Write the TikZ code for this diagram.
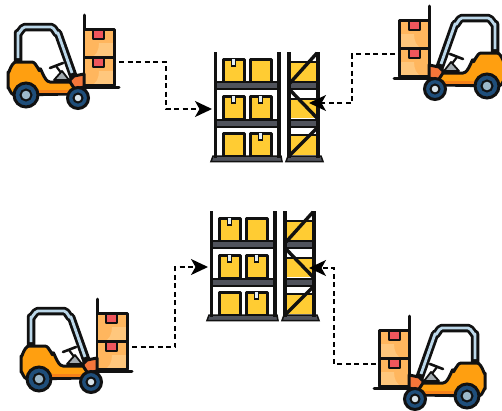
\documentclass[tikz,border=0pt]{standalone}
\usetikzlibrary{arrows.meta}
\definecolor{boxor}{HTML}{FFB65E}
\definecolor{boxlt}{HTML}{FFC77D}
\definecolor{tagred}{HTML}{F0565C}
\definecolor{bodyor}{HTML}{FF9F10}
\definecolor{bodydk}{HTML}{F5821A}
\definecolor{noseor}{HTML}{F5763A}
\definecolor{navyw}{HTML}{1F4E7A}
\definecolor{hubw}{HTML}{9DB8C9}
\definecolor{glass}{HTML}{BCD8EA}
\definecolor{seatg}{HTML}{A3ABB0}
\definecolor{inkk}{HTML}{111111}
\definecolor{shelfg}{HTML}{50535C}
\definecolor{crate}{HTML}{FFCC33}
\tikzset{
  x=1pt,y=-1pt,
  ink/.style={draw=inkk,line width=3pt,line join=round,line cap=round},
  flow/.style={draw=black,line width=1.4pt,dash pattern=on 5pt off 3.5pt,-{Stealth[length=17pt,width=16pt,inset=4.5pt]}},
  crateb/.style={ink,fill=crate},
  lifttruck/.pic={
    % cab frame
    \draw[inkk,line width=8.5pt,line join=round] (18,66) -- (18,33) to[out=-90,in=180] (25,27) -- (51,27) to[out=0,in=-110] (58,33) -- (74,78);
    \draw[glass,line width=2.8pt,line join=round] (18,58) -- (18,33) to[out=-90,in=180] (25,27) -- (51,27) to[out=0,in=-110] (58,33) -- (72,73);
    % steering and seat
    \draw[ink,line width=2.6pt] (50,68) -- (63,63);
    \draw[ink,line width=2.2pt] (56,66) -- (65,78);
    \draw[ink,fill=seatg,line width=1.8pt] (54,80) -- (62,71) -- (69,80) -- cycle;
    % mast and forks
    \draw[ink] (84,15) -- (84,87) -- (119,87);
    % boxes
    \foreach \ty in {29,57}{
      \fill[boxor] (85,\ty) rectangle (113,\ty+28);
      \fill[boxlt] (99,\ty+14) -- (113,\ty+14) -- (113,\ty+28) -- (90,\ty+28) to[out=0,in=-90] (99,\ty+14);
      \fill[tagred] (93,\ty) rectangle (104,\ty+9);
      \draw[ink,line width=2pt] (93,\ty) -- (93,\ty+10) -- (104,\ty+10) -- (104,\ty);
      \draw[ink] (85,\ty) -- (114,\ty) -- (114,\ty+28) -- (85,\ty+28);
    }
    % nose and body
    \draw[ink,fill=noseor] (70,80) -- (74,76) -- (84,74) -- (84,87) -- (70,90) -- cycle;
    \draw[ink,fill=bodyor] (8,72) to[out=-90,in=180] (16,62) -- (32,62) to[out=0,in=-90] (40,70) to[out=90,in=180] (50,82) -- (70,82) -- (74,88) -- (72,94) -- (14,95) to[out=180,in=90] (8,88) -- cycle;
    \fill[bodydk] (38,89.5) rectangle (70,92.5);
    % wheels
    \draw[inkk,line width=3pt,fill=navyw] (26,95) circle (12);
    \draw[inkk,line width=2pt,fill=hubw] (26,95) circle (5.5);
    \draw[inkk,line width=3pt,fill=navyw] (78,98) circle (10.5);
    \draw[inkk,line width=2pt,fill=hubw!40] (78,98) circle (4.5);
  },
  rackpic/.pic={
    % left bay boxes
    \foreach \bx/\by in {223/59,223/96,250/96,250/133}{
      \draw[crateb] (\bx,\by) rectangle ++(21,23);
      \draw[inkk,line width=1.6pt,fill=glass!40] (\bx+8.5,\by) -- (\bx+8.5,\by+7) -- (\bx+12.5,\by+7) -- (\bx+12.5,\by);
    }
    \foreach \bx/\by in {250/59,223/133}{
      \draw[crateb] (\bx,\by) rectangle ++(21,23);
    }
    % left bay shelves
    \foreach \sy in {85.5,123}{
      \draw[inkk,line width=2pt,fill=shelfg] (216,\sy-3.5) rectangle (279,\sy+3.5);
    }
    \draw[inkk,line width=1.5pt,fill=shelfg] (211,161.5) -- (213,156) -- (281,156) -- (282,161.5) -- cycle;
    \draw[inkk,line width=3.8pt] (215.5,52) -- (215.5,158);
    \draw[inkk,line width=3.8pt] (279,52) -- (279,158);
    % right bay panels
    \foreach \py/\ph in {63/19,99/19,136/19}{
      \fill[crate] (290,\py) rectangle (317,\py+\ph);
    }
    \foreach \sy in {85.5,123}{
      \draw[inkk,line width=2pt,fill=shelfg] (289,\sy-3.5) rectangle (318,\sy+3.5);
    }
    \draw[inkk,line width=2.4pt] (289,62) -- (318,62);
    \draw[inkk,line width=2.4pt] (289,99) -- (318,99);
    \draw[inkk,line width=2.4pt] (289,135) -- (318,135);
    \draw[inkk,line width=3.4pt] (290,83) -- (317,53);
    \draw[inkk,line width=3.4pt] (290,90) -- (317,118);
    \draw[inkk,line width=3.4pt] (290,155) -- (317,128);
    \draw[inkk,line width=1.5pt,fill=shelfg] (286,161.5) -- (288,156) -- (321,156) -- (323,161.5) -- cycle;
    \draw[inkk,line width=3.8pt] (289,52) -- (289,158);
    \draw[inkk,line width=3.8pt] (318,52) -- (318,158);
  }
}
\begin{document}
\begin{tikzpicture}
\useasboundingbox (0,0) rectangle (502,410);
\pic at (0,0) {rackpic};
\pic at (-4,159) {rackpic};
\pic at (0,0) {lifttruck};
\pic at (13,284) {lifttruck};
\pic[xscale=-1] at (513,-9) {lifttruck};
\pic[xscale=-1] at (493,301) {lifttruck};
\coordinate (truckA) at (119,62);
\coordinate (truckB) at (395,54);
\coordinate (truckC) at (132,347);
\coordinate (truckD) at (376,364);
\coordinate (rackAl) at (212,109);
\coordinate (rackAr) at (309,103);
\coordinate (rackBl) at (208,267);
\coordinate (rackBr) at (309,268);
\draw[flow] (truckA) -- (166,62) -- (166,109) -- (rackAl);
\draw[flow] (truckB) -- (352,54) -- (352,103) -- (rackAr);
\draw[flow] (truckC) -- (175,347) -- (175,267) -- (rackBl);
\draw[flow] (truckD) -- (334,364) -- (334,268) -- (rackBr);
\end{tikzpicture}
\end{document}
